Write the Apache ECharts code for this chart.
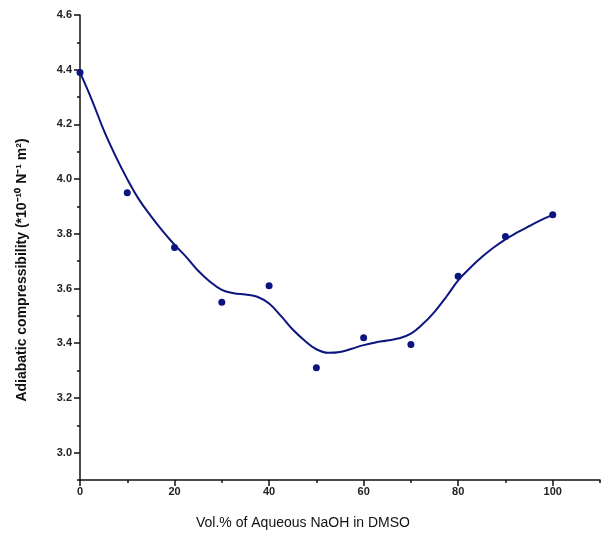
<!DOCTYPE html>
<html>
<head>
<meta charset="utf-8" />
<title></title>
<script src="https://cdn.jsdelivr.net/npm/echarts@6/dist/echarts.min.js"></script>
<style>
html, body { margin: 0; padding: 0; background: #fff; }
#main { width: 606px; height: 537px; }
</style>
</head>
<body>
<div id="main"></div>
<script type="text/javascript">
// measured points
var volPct = [0, 10, 20, 30, 40, 50, 60, 70, 80, 90, 100];
var compress = [4.39, 3.95, 3.75, 3.55, 3.61, 3.31, 3.42, 3.395, 3.645, 3.79, 3.87];

// fitted curve
var fitX = [0, 2.5, 5, 7.5, 10, 12.5, 15, 17.5, 20, 22.5, 25, 27.5, 30, 32.5, 35, 37.5, 40, 42.5, 45, 47.5, 50, 52.5, 55, 57.5, 60, 62.5, 65, 67.5, 70, 72.5, 75, 77.5, 80, 82.5, 85, 87.5, 90, 92.5, 95, 97.5, 100];
var fitY = [4.39, 4.29, 4.18, 4.085, 4.00, 3.925, 3.865, 3.81, 3.76, 3.715, 3.665, 3.625, 3.595, 3.583, 3.578, 3.57, 3.545, 3.50, 3.45, 3.41, 3.378, 3.365, 3.368, 3.38, 3.393, 3.403, 3.41, 3.418, 3.435, 3.47, 3.515, 3.57, 3.63, 3.675, 3.715, 3.75, 3.78, 3.805, 3.828, 3.85, 3.869];

// ticks
var xMajor = [0, 20, 40, 60, 80, 100];
var xMinor = [10, 30, 50, 70, 90, 110];
var yMajor = [3.0, 3.2, 3.4, 3.6, 3.8, 4.0, 4.2, 4.4, 4.6];
var yMinor = [2.9, 3.1, 3.3, 3.5, 3.7, 3.9, 4.1, 4.3, 4.5];

var pts = volPct.map(function (v, i) { return [v, compress[i]]; });
var fit = fitX.map(function (v, i) { return [v, fitY[i]]; });

var lblStyle = { fontFamily: 'Liberation Sans', fontWeight: 'bold', fontSize: 11, color: '#222' };
var lineStyle = { color: '#111', width: 1.5 };

var myChart = echarts.init(document.getElementById('main'));
var option = {
    backgroundColor: '#fff',
    animation: false,
    title: {
        text: 'Vol.% of Aqueous NaOH in DMSO',
        left: 'center',
        top: 511,
        textStyle: { fontFamily: 'Liberation Sans', fontWeight: 'normal', fontSize: 14, color: '#111' }
    },
    graphic: [{
        type: 'text',
        x: 22, y: 270,
        rotation: Math.PI / 2,
        style: {
            text: 'Adiabatic compressibility (*10\u207B\u00B9\u2070 N\u207B\u00B9 m\u00B2)',
            font: 'bold 14px "Liberation Sans"',
            fill: '#111',
            align: 'center',
            verticalAlign: 'middle'
        }
    }],
    grid: { left: 80, top: 15, right: 6, bottom: 57 },
    xAxis: [{
        type: 'value', min: 0, max: 110,
        axisLine: { lineStyle: lineStyle },
        axisTick: { customValues: xMajor, length: 6, lineStyle: lineStyle },
        axisLabel: Object.assign({ customValues: xMajor, margin: 6 }, lblStyle),
        splitLine: { show: false }
    }, {
        type: 'value', min: 0, max: 110, position: 'bottom',
        axisLine: { show: false },
        axisTick: { customValues: xMinor, length: 3, lineStyle: lineStyle },
        axisLabel: { show: false },
        splitLine: { show: false }
    }],
    yAxis: [{
        type: 'value', min: 2.9, max: 4.6,
        axisLine: { show: true, lineStyle: lineStyle },
        axisTick: { customValues: yMajor, length: 6, lineStyle: lineStyle },
        axisLabel: Object.assign({
            customValues: yMajor, margin: 8,
            formatter: function (v) { return v.toFixed(1); }
        }, lblStyle),
        splitLine: { show: false }
    }, {
        type: 'value', min: 2.9, max: 4.6, position: 'left',
        axisLine: { show: false },
        axisTick: { customValues: yMinor, length: 3, lineStyle: lineStyle },
        axisLabel: { show: false },
        splitLine: { show: false }
    }],
    series: [{
        type: 'line',
        data: fit,
        smooth: 0.4,
        showSymbol: false,
        lineStyle: { color: '#0c1480', width: 2 },
        z: 2
    }, {
        type: 'scatter',
        data: pts,
        symbolSize: 7,
        itemStyle: { color: '#0c1480', opacity: 1 },
        z: 3
    }]
};
myChart.setOption(option);
</script>
</body>
</html>
